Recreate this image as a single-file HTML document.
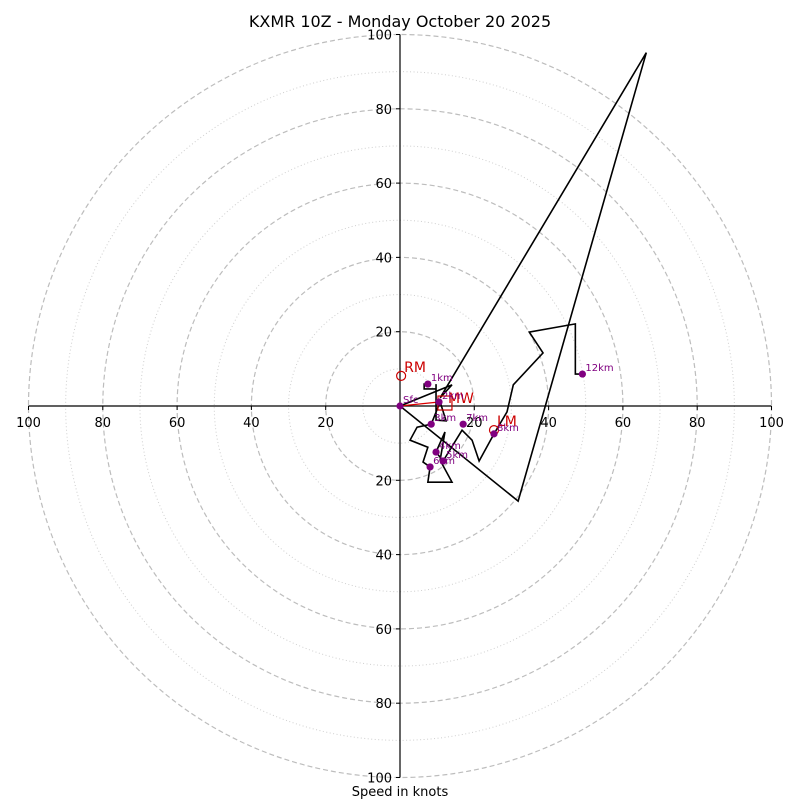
<!DOCTYPE html>
<html><head><meta charset="utf-8"><style>
html,body{margin:0;padding:0;background:#fff;}
svg{display:block;font-family:"DejaVu Sans","Liberation Sans",sans-serif;}
</style></head><body>
<svg id="chart" width="800" height="800" viewBox="0 0 800 800" xmlns="http://www.w3.org/2000/svg">
<text x="400" y="27" text-anchor="middle" font-size="16" fill="#000">KXMR 10Z - Monday October 20 2025</text>
<text x="400" y="796" text-anchor="middle" font-size="13" fill="#000">Speed in knots</text>
</svg>
<script>
// data (knots)
const ringsDashed = [20, 40, 60, 80, 100];
const ringsDotted = [10, 30, 50, 70, 90];
const tickValues = [20, 40, 60, 80, 100];
const traceU = [7.5, 6.5, 6.5, 9.7, 9.7, 9.7, 12.4, 10.8, 8.4, 4.6, 2.7, 7.5, 6.2, 8.1, 7.5, 14.0, 10.8, 12.1, 9.7, 11.6, 16.7, 19.4, 21.3, 25.3, 28.8, 30.5, 38.5, 34.8, 47.2, 47.2, 49.1];
const traceV = [5.9, 5.9, 4.6, 4.6, 5.9, -3.8, -4.0, 1.1, -4.9, -5.7, -9.2, -11.1, -15.1, -16.4, -20.5, -20.5, -14.6, -7.0, -12.4, -14.8, -6.5, -9.2, -14.8, -7.5, -1.6, 5.7, 14.3, 19.9, 22.1, 8.6, 8.6];
const outerU = [10.8, 14.0, 0, 31.8, 66.3, 10.8];
const outerV = [2.2, 5.7, 0, -25.6, 95.1, 2.2];
const markerLabels = ["Sfc", "1km", "2km", "3km", "4km", "5km", "6km", "7km", "8km", "12km"];
const markerU = [0, 7.5, 10.5, 8.4, 9.7, 11.6, 8.1, 17.0, 25.3, 49.1];
const markerV = [0, 5.9, 1.1, -4.9, -12.4, -14.8, -16.4, -4.9, -7.5, 8.6];
const motionLabels = ["RM", "LM"];
const motionU = [0.3, 25.3];
const motionV = [8.1, -6.5];
const mwU = 12.1, mwV = 0.8;

const NS = "http://www.w3.org/2000/svg";
const svg = document.getElementById("chart");
const cx = 400, cy = 406, k = 3.715;
const X = u => cx + u * k;
const Y = v => cy - v * k;
function mk(tag, attrs, parent) {
  const e = document.createElementNS(NS, tag);
  for (const a in attrs) e.setAttribute(a, attrs[a]);
  (parent || svg).appendChild(e);
  return e;
}
ringsDotted.forEach(r => {
  const c = mk("circle", {cx: cx, cy: cy, r: r * k, fill: "none", stroke: "#cfcfcf", "stroke-width": 1, "stroke-dasharray": "1 2.5"});
  
  
});
ringsDashed.forEach(r => {
  const c = mk("circle", {cx: cx, cy: cy, r: r * k, fill: "none", stroke: "#bdbdbd", "stroke-width": 1.2, "stroke-dasharray": "5 3"});
  
  
});
// axes
const ax = mk("line", {x1: X(-100), y1: cy, x2: X(100), y2: cy, stroke: "#000", "stroke-width": 1.2});


const ay = mk("line", {x1: cx, y1: Y(100), x2: cx, y2: Y(-100), stroke: "#000", "stroke-width": 1.2});


tickValues.forEach(t => {
  [-1, 1].forEach(s => {
    mk("line", {x1: X(s * t), y1: cy, x2: X(s * t), y2: cy + 4, stroke: "#000", "stroke-width": 1});
    const tx = mk("text", {x: X(s * t), y: cy + 21, "text-anchor": "middle", "font-size": 13, fill: "#000"});
    tx.textContent = t;
    
    
    mk("line", {x1: cx - 4, y1: Y(s * t), x2: cx, y2: Y(s * t), stroke: "#000", "stroke-width": 1});
    const ty = mk("text", {x: cx - 8, y: Y(s * t) + 5, "text-anchor": "end", "font-size": 13, fill: "#000"});
    ty.textContent = t;
    
    
  });
});
// red mean wind line
const rl = mk("line", {x1: X(0), y1: Y(0), x2: X(10.8), y2: Y(1.1), stroke: "#d00", "stroke-width": 1.3});


// trace
const p1 = mk("polyline", {points: outerU.map((u, i) => X(u) + "," + Y(outerV[i])).join(" "), fill: "none", stroke: "#000", "stroke-width": 1.6});


const p2 = mk("polyline", {points: traceU.map((u, i) => X(u) + "," + Y(traceV[i])).join(" "), fill: "none", stroke: "#000", "stroke-width": 1.6});


// MW box
const mw = mk("rect", {x: X(mwU) - 7, y: Y(mwV) - 7, width: 14, height: 14, fill: "none", stroke: "#c00", "stroke-width": 1.2});


const mwt = mk("text", {x: X(mwU) + 3, y: Y(mwV) + 0, "font-size": 14, fill: "#c00"});
mwt.textContent = "MW";


// storm motions
motionLabels.forEach((l, i) => {
  const c = mk("circle", {cx: X(motionU[i]), cy: Y(motionV[i]), r: 4.5, fill: "none", stroke: "#c00", "stroke-width": 1.2});
  
  
  const t = mk("text", {x: X(motionU[i]) + 3, y: Y(motionV[i]) - 4, "font-size": 14, fill: "#c00"});
  t.textContent = l;
  
  
});
// height markers
markerLabels.forEach((l, i) => {
  const c = mk("circle", {cx: X(markerU[i]), cy: Y(markerV[i]), r: 3.6, fill: "#800080"});
  
  
  const t = mk("text", {x: X(markerU[i]) + 3, y: Y(markerV[i]) - 3, "font-size": 10, fill: "#800080"});
  t.textContent = l;
  
  
});
</script>
</body></html>
